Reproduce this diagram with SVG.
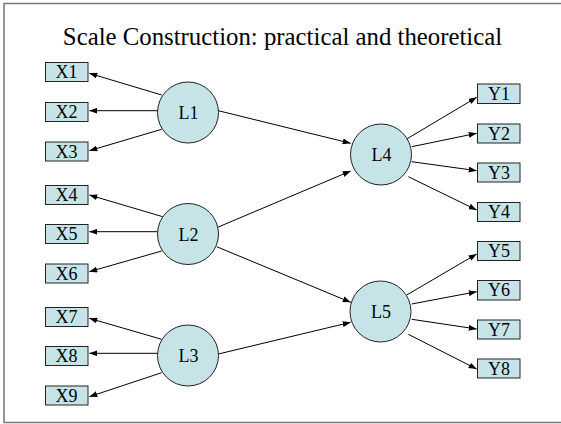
<svg xmlns="http://www.w3.org/2000/svg" width="561" height="424" viewBox="0 0 561 424">
<style>
.box{fill:#c6e4e8;stroke:#222;stroke-width:1}
.lat{fill:#c6e4e8;stroke:#222;stroke-width:1}
.t{font-family:"Liberation Serif","Times New Roman",serif;font-size:18px;fill:#000;text-anchor:middle}
.title{font-family:"Liberation Serif","Times New Roman",serif;font-size:24.8px;fill:#000;text-anchor:middle}
.e{stroke:#000;stroke-width:1;fill:none;marker-end:url(#ah)}
</style>
<defs>
<marker id="ah" markerUnits="userSpaceOnUse" markerWidth="8" markerHeight="6" refX="8" refY="3" orient="auto">
<path d="M0,0 L8,3 L0,6 z" fill="#000"/>
</marker>
</defs>
<rect x="0" y="0" width="561" height="424" fill="#fff"/>
<rect x="4" y="3.5" width="560" height="419" fill="none" stroke="#777" stroke-width="1.5"/>
<text class="title" x="282.5" y="44.5">Scale Construction: practical and theoretical</text>
<g id="connectors">
<line class="e" x1="161.7" y1="95" x2="89.3" y2="73.3"/>
<line class="e" x1="157.3" y1="110.7" x2="89.3" y2="110.7"/>
<line class="e" x1="161.7" y1="129.3" x2="89.3" y2="150.7"/>
<line class="e" x1="162.7" y1="216.7" x2="89.3" y2="195"/>
<line class="e" x1="157.3" y1="231.7" x2="89.3" y2="231.7"/>
<line class="e" x1="161.7" y1="251" x2="89.3" y2="271.7"/>
<line class="e" x1="161.7" y1="339.3" x2="89.3" y2="318.3"/>
<line class="e" x1="157.3" y1="353.3" x2="89.3" y2="353.3"/>
<line class="e" x1="161.7" y1="372.7" x2="89.3" y2="396.7"/>
<line class="e" x1="218.3" y1="110.7" x2="350.7" y2="143.3"/>
<line class="e" x1="218.3" y1="227" x2="350.7" y2="171"/>
<line class="e" x1="216.7" y1="246.7" x2="350.7" y2="302.3"/>
<line class="e" x1="218.3" y1="354" x2="350.7" y2="322.3"/>
<line class="e" x1="406.7" y1="139" x2="476.7" y2="97.3"/>
<line class="e" x1="411.7" y1="146.7" x2="476.7" y2="133.3"/>
<line class="e" x1="411.7" y1="161.7" x2="476.7" y2="170.7"/>
<line class="e" x1="408.3" y1="176.7" x2="476.7" y2="210"/>
<line class="e" x1="406.7" y1="295" x2="476.7" y2="254"/>
<line class="e" x1="411.7" y1="304" x2="476.7" y2="291.7"/>
<line class="e" x1="411.7" y1="319.3" x2="476.7" y2="329"/>
<line class="e" x1="408.3" y1="334.3" x2="476.7" y2="369"/>
</g>
<g id="X1"><rect class="box" x="45.5" y="62.5" width="42.5" height="19"/><text class="t" x="66.5" y="78">X1</text></g>
<g id="X2"><rect class="box" x="45.5" y="102.5" width="42.5" height="19"/><text class="t" x="66.5" y="118">X2</text></g>
<g id="X3"><rect class="box" x="45.5" y="142" width="42.5" height="19"/><text class="t" x="66.5" y="157.5">X3</text></g>
<g id="X4"><rect class="box" x="45.5" y="185.5" width="42.5" height="19"/><text class="t" x="66.5" y="201">X4</text></g>
<g id="X5"><rect class="box" x="45.5" y="224.5" width="42.5" height="19"/><text class="t" x="66.5" y="240">X5</text></g>
<g id="X6"><rect class="box" x="45.5" y="264" width="42.5" height="19"/><text class="t" x="66.5" y="279.5">X6</text></g>
<g id="X7"><rect class="box" x="45.5" y="307.5" width="42.5" height="19"/><text class="t" x="66.5" y="323">X7</text></g>
<g id="X8"><rect class="box" x="45.5" y="346.5" width="42.5" height="19"/><text class="t" x="66.5" y="362">X8</text></g>
<g id="X9"><rect class="box" x="45.5" y="386" width="42.5" height="19"/><text class="t" x="66.5" y="401.5">X9</text></g>
<g id="L1"><circle class="lat" cx="188" cy="112.5" r="30.5"/><text class="t" x="188.5" y="119">L1</text></g>
<g id="L2"><circle class="lat" cx="188" cy="234" r="30.5"/><text class="t" x="188.5" y="240.5">L2</text></g>
<g id="L3"><circle class="lat" cx="188" cy="355.5" r="30.5"/><text class="t" x="188.5" y="362">L3</text></g>
<g id="L4"><circle class="lat" cx="381" cy="154.5" r="30.5"/><text class="t" x="381.5" y="161">L4</text></g>
<g id="L5"><circle class="lat" cx="380.5" cy="311.5" r="30.5"/><text class="t" x="381" y="318">L5</text></g>
<g id="Y1"><rect class="box" x="477.5" y="84" width="42.5" height="19.5"/><text class="t" x="499" y="99.5">Y1</text></g>
<g id="Y2"><rect class="box" x="477.5" y="124" width="42.5" height="19"/><text class="t" x="499" y="139.5">Y2</text></g>
<g id="Y3"><rect class="box" x="477.5" y="163" width="42.5" height="19"/><text class="t" x="499" y="178.5">Y3</text></g>
<g id="Y4"><rect class="box" x="477.5" y="202.5" width="42.5" height="19"/><text class="t" x="499" y="218">Y4</text></g>
<g id="Y5"><rect class="box" x="477.5" y="241.5" width="42.5" height="19"/><text class="t" x="499" y="257">Y5</text></g>
<g id="Y6"><rect class="box" x="477.5" y="280.5" width="42.5" height="19.5"/><text class="t" x="499" y="296">Y6</text></g>
<g id="Y7"><rect class="box" x="477.5" y="320" width="42.5" height="19"/><text class="t" x="499" y="335.5">Y7</text></g>
<g id="Y8"><rect class="box" x="477.5" y="359" width="42.5" height="19"/><text class="t" x="499" y="374.5">Y8</text></g>
</svg>
